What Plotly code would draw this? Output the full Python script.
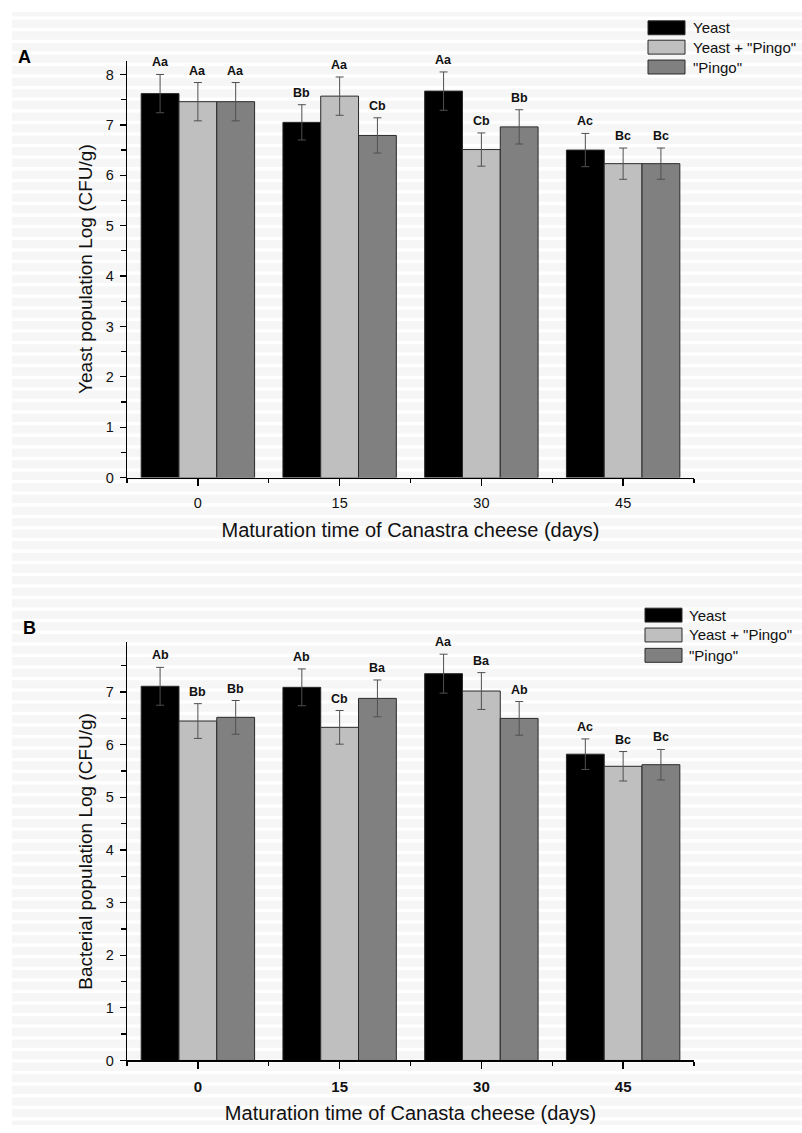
import plotly.graph_objects as go

# ---------------- data ----------------
days = ["0", "15", "30", "45"]
series_names = ["Yeast", 'Yeast + "Pingo"', '"Pingo"']
colors = ["#000000", "#bfbfbf", "#808080"]

# Panel A: yeast population
yeast_A = [7.62, 7.05, 7.67, 6.50]
yeastpingo_A = [7.46, 7.57, 6.51, 6.23]
pingo_A = [7.46, 6.79, 6.96, 6.23]
yeast_A_err = [0.38, 0.35, 0.38, 0.33]
yeastpingo_A_err = [0.38, 0.38, 0.33, 0.31]
pingo_A_err = [0.38, 0.35, 0.34, 0.31]
yeast_A_lab = ["Aa", "Bb", "Aa", "Ac"]
yeastpingo_A_lab = ["Aa", "Aa", "Cb", "Bc"]
pingo_A_lab = ["Aa", "Cb", "Bb", "Bc"]

# Panel B: bacterial population
yeast_B = [7.11, 7.09, 7.35, 5.82]
yeastpingo_B = [6.45, 6.33, 7.02, 5.59]
pingo_B = [6.52, 6.88, 6.50, 5.62]
yeast_B_err = [0.36, 0.35, 0.37, 0.29]
yeastpingo_B_err = [0.33, 0.32, 0.35, 0.28]
pingo_B_err = [0.32, 0.35, 0.32, 0.29]
yeast_B_lab = ["Ab", "Ab", "Aa", "Ac"]
yeastpingo_B_lab = ["Bb", "Cb", "Ba", "Bc"]
pingo_B_lab = ["Bb", "Ba", "Ab", "Bc"]

W, H = 802, 1133
FONT = "Liberation Sans, Arial, Helvetica, sans-serif"

def px_x(x):
    return x / W

def px_y(y):
    return 1 - y / H

fig = go.Figure()

bar_w = 0.8 / 3
panels = [
    ("x", "y", [yeast_A, yeastpingo_A, pingo_A],
     [yeast_A_err, yeastpingo_A_err, pingo_A_err],
     [yeast_A_lab, yeastpingo_A_lab, pingo_A_lab]),
    ("x2", "y2", [yeast_B, yeastpingo_B, pingo_B],
     [yeast_B_err, yeastpingo_B_err, pingo_B_err],
     [yeast_B_lab, yeastpingo_B_lab, pingo_B_lab]),
]

annotations = []
for xa, ya, vals, errs, labs in panels:
    for j in range(3):
        xs = [i + (j - 1) * bar_w for i in range(len(days))]
        fig.add_trace(go.Bar(
            x=xs, y=vals[j], width=bar_w, name=series_names[j],
            marker=dict(color=colors[j], line=dict(color="#2a2a2a", width=1)),
            error_y=dict(type="data", array=errs[j], color="#505050",
                         thickness=1, width=4),
            xaxis=xa, yaxis=ya, showlegend=False,
        ))
        for i in range(len(days)):
            annotations.append(dict(
                x=xs[i], y=vals[j][i] + errs[j][i], xref=xa, yref=ya,
                text="<b>%s</b>" % labs[j][i], showarrow=False, yanchor="middle", yshift=12,
                font=dict(family=FONT, size=12.5, color="#111111"),
            ))

# ---------------- background + legends ----------------
shapes = []
shapes.append(dict(type="rect", xref="paper", yref="paper",
                   x0=px_x(12), x1=1, y0=0, y1=px_y(12),
                   fillcolor="#f6f6f6", line=dict(width=0), layer="below"))
y = 203.3
while y > 12:
    y -= 11.67
k = y + 11.67
while k < H:
    shapes.append(dict(type="rect", xref="paper", yref="paper",
                       x0=px_x(12), x1=1, y0=px_y(k + 3.3), y1=px_y(k),
                       fillcolor="#ffffff", line=dict(width=0), layer="below"))
    k += 11.67

legend_specs = [
    (648, 685, 691, [28, 47.5, 67.5]),
    (645, 682, 687, [619.5, 639.5, 660]),
]
for x0, x1, xt, rows in legend_specs:
    for j, yc in enumerate(rows):
        shapes.append(dict(type="rect", xref="paper", yref="paper",
                           x0=px_x(x0), x1=px_x(x1),
                           y0=px_y(yc + 7), y1=px_y(yc - 7),
                           fillcolor=colors[j], line=dict(color="#2a2a2a", width=1)))
        annotations.append(dict(
            x=px_x(xt), y=px_y(yc), xref="paper", yref="paper",
            text=series_names[j], showarrow=False, xanchor="left", yanchor="middle",
            font=dict(family=FONT, size=15, color="#111111"),
        ))

# panel letters
annotations.append(dict(x=px_x(16), y=px_y(57), xref="paper", yref="paper", text="<b>A</b>",
                        showarrow=False, xanchor="left", yanchor="middle",
                        font=dict(family=FONT, size=18, color="#000000")))
annotations.append(dict(x=px_x(21), y=px_y(632), xref="paper", yref="paper", text="<b>B</b>",
                        showarrow=False, xanchor="left", yanchor="middle",
                        font=dict(family=FONT, size=18, color="#000000")))

xdom = [px_x(127), px_x(694)]
common_x = dict(
    domain=xdom, range=[-0.5, 3.5], tickmode="array", tickvals=[0, 1, 2, 3],
    ticks="outside", ticklen=7, tickwidth=1.3, tickcolor="#000000",
    showline=True, linecolor="#000000", linewidth=1.3, showgrid=False, zeroline=False,
    minor=dict(tickvals=[-0.5, 0.5, 1.5, 2.5, 3.5], ticks="outside", ticklen=4,
               tickwidth=1.3, tickcolor="#000000"),
    ticklabelstandoff=5,
)
common_y = dict(
    ticks="outside", ticklen=6, tickwidth=1.3, tickcolor="#000000", dtick=1, tick0=0,
    showline=True, linecolor="#000000", linewidth=1.3, showgrid=False, zeroline=False,
    minor=dict(dtick=0.5, tick0=0, ticks="outside", ticklen=5, tickwidth=1.3,
               tickcolor="#000000"),
    tickfont=dict(family=FONT, size=14.5, color="#111111"),
    ticklabelstandoff=3,
)

fig.update_layout(
    width=W, height=H, autosize=False,
    margin=dict(l=0, r=0, t=0, b=0),
    paper_bgcolor="#ffffff", plot_bgcolor="rgba(0,0,0,0)",
    barmode="overlay", showlegend=False,
    font=dict(family=FONT, color="#111111"),
    xaxis=dict(common_x, anchor="y", ticktext=days,
               tickfont=dict(family=FONT, size=14.5, color="#111111"),
               title=dict(text="Maturation time of Canastra cheese (days)",
                          font=dict(family=FONT, size=20, color="#111111"), standoff=12)),
    yaxis=dict(common_y, domain=[px_y(481), px_y(61)], range=[0, 420 / 50.75], anchor="x",
               title=dict(text="Yeast population Log (CFU/g)",
                          font=dict(family=FONT, size=19, color="#111111"), standoff=8)),
    xaxis2=dict(common_x, anchor="y2", ticktext=["<b>%s</b>" % d for d in days],
                tickfont=dict(family=FONT, size=15, color="#111111"),
                title=dict(text="Maturation time of Canasta cheese (days)",
                           font=dict(family=FONT, size=20, color="#111111"), standoff=12)),
    yaxis2=dict(common_y, domain=[px_y(1068), px_y(647)], range=[0, 421 / 53.0], anchor="x2",
                title=dict(text="Bacterial population Log (CFU/g)",
                           font=dict(family=FONT, size=19, color="#111111"), standoff=8)),
    annotations=annotations,
    shapes=shapes,
)

fig.write_html(
    "out.html",
    config={"displayModeBar": False, "staticPlot": True},
    post_script=(
        "document.documentElement.style.margin='0';"
        "document.documentElement.style.padding='0';"
        "document.documentElement.style.overflow='hidden';"
        "document.documentElement.style.height='1133px';"
        "document.body.style.margin='0';"
        "document.body.style.padding='0';"
        "document.body.style.overflow='hidden';"
        "document.body.style.height='1133px';"
    ),
)
